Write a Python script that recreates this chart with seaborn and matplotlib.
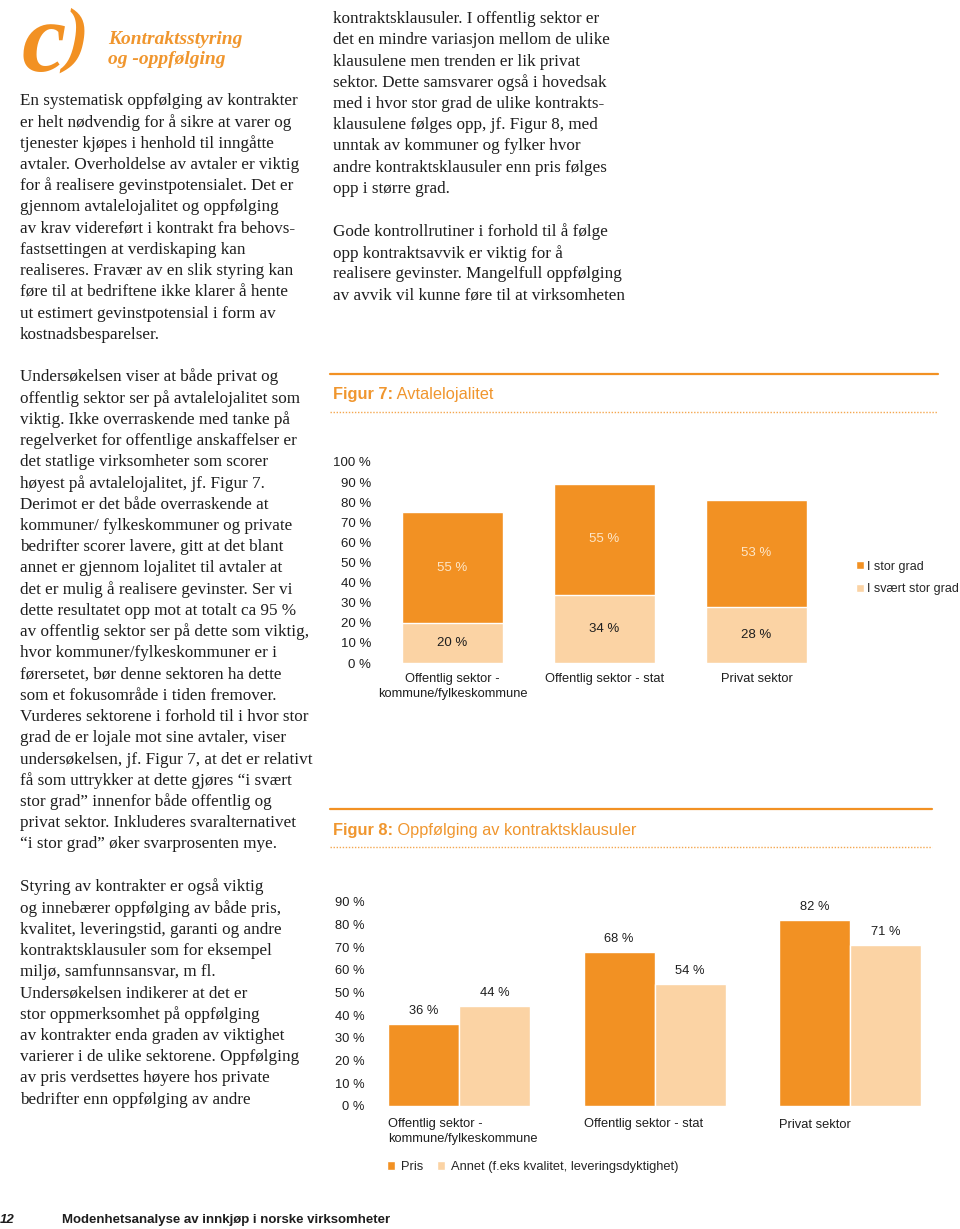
import matplotlib
matplotlib.use("Agg")
import matplotlib.pyplot as plt
from matplotlib.lines import Line2D
import pandas as pd
import seaborn as sns

# ---------------------------------------------------------
# DATA
# ---------------------------------------------------------
SEKTORER = ["Offentlig sektor -\nkommune/fylkeskommune",
            "Offentlig sektor - stat", "Privat sektor"]

# Figur 7: Avtalelojalitet (stablet)
SVAERT_STOR_GRAD = [20, 34, 28]
STOR_GRAD = [55, 55, 53]
SERIER7 = ["I stor grad", "I svært stor grad"]

# Figur 8: Oppfølging av kontraktsklausuler
PRIS = [36, 68, 82]
ANNET = [44, 54, 71]
SERIER8 = ["Pris", "Annet (f.eks kvalitet, leveringsdyktighet)"]

TICKS7 = list(range(0, 101, 10))
TICKS8 = list(range(0, 91, 10))

# ---------------------------------------------------------
# PAGE TEXT
# ---------------------------------------------------------
LEFT_P1 = [
    "En systematisk oppfølging av kontrakter",
    "er helt nødvendig for å sikre at varer og",
    "tjenester kjøpes i henhold til inngåtte",
    "avtaler. Overholdelse av avtaler er viktig",
    "for å realisere gevinstpotensialet. Det er",
    "gjennom avtalelojalitet og oppfølging",
    "av krav videreført i kontrakt fra behovs-",
    "fastsettingen at verdiskaping kan",
    "realiseres. Fravær av en slik styring kan",
    "føre til at bedriftene ikke klarer å hente",
    "ut estimert gevinstpotensial i form av",
    "kostnadsbesparelser.",
]
LEFT_P2 = [
    "Undersøkelsen viser at både privat og",
    "offentlig sektor ser på avtalelojalitet som",
    "viktig. Ikke overraskende med tanke på",
    "regelverket for offentlige anskaffelser er",
    "det statlige virksomheter som scorer",
    "høyest på avtalelojalitet, jf. Figur 7.",
    "Derimot er det både overraskende at",
    "kommuner/ fylkeskommuner og private",
    "bedrifter scorer lavere, gitt at det blant",
    "annet er gjennom lojalitet til avtaler at",
    "det er mulig å realisere gevinster. Ser vi",
    "dette resultatet opp mot at totalt ca 95 %",
    "av offentlig sektor ser på dette som viktig,",
    "hvor kommuner/fylkeskommuner er i",
    "førersetet, bør denne sektoren ha dette",
    "som et fokusområde i tiden fremover.",
    "Vurderes sektorene i forhold til i hvor stor",
    "grad de er lojale mot sine avtaler, viser",
    "undersøkelsen, jf. Figur 7, at det er relativt",
    "få som uttrykker at dette gjøres “i svært",
    "stor grad” innenfor både offentlig og",
    "privat sektor. Inkluderes svaralternativet",
    "“i stor grad” øker svarprosenten mye.",
]
LEFT_P3 = [
    "Styring av kontrakter er også viktig",
    "og innebærer oppfølging av både pris,",
    "kvalitet, leveringstid, garanti og andre",
    "kontraktsklausuler som for eksempel",
    "miljø, samfunnsansvar, m fl.",
    "Undersøkelsen indikerer at det er",
    "stor oppmerksomhet på oppfølging",
    "av kontrakter enda graden av viktighet",
    "varierer i de ulike sektorene. Oppfølging",
    "av pris verdsettes høyere hos private",
    "bedrifter enn oppfølging av andre",
]
RIGHT_P1 = [
    "kontraktsklausuler. I offentlig sektor er",
    "det en mindre variasjon mellom de ulike",
    "klausulene men trenden er lik privat",
    "sektor. Dette samsvarer også i hovedsak",
    "med i hvor stor grad de ulike kontrakts-",
    "klausulene følges opp, jf. Figur 8, med",
    "unntak av kommuner og fylker hvor",
    "andre kontraktsklausuler enn pris følges",
    "opp i større grad.",
]
RIGHT_P2 = [
    "Gode kontrollrutiner i forhold til å følge",
    "opp kontraktsavvik er viktig for å",
    "realisere gevinster. Mangelfull oppfølging",
    "av avvik vil kunne føre til at virksomheten",
]

# ---------------------------------------------------------
# STYLE
# ---------------------------------------------------------
W, H = 960, 1229
ORANGE = "#F29123"
PEACH = "#FBD3A4"
TITLE_ORANGE = "#F0962E"
INK = "#1e1e1e"
SERIF = ["Liberation Serif", "DejaVu Serif"]
SANS = ["Liberation Sans", "DejaVu Sans"]

sns.set_theme(style="white")
plt.rcParams["font.family"] = SANS


def fx(x):
    return x / W


def fy(y):
    return 1 - y / H


def axes_px(fig, left, right, top, bottom):
    return fig.add_axes([fx(left), fy(bottom), (right - left) / W, (bottom - top) / H])


def paragraph(fig, lines, x, y0, step=21.25):
    for i, line in enumerate(lines):
        fig.text(fx(x), fy(y0 + i * step), line, family=SERIF, fontsize=12.3,
                 color=INK, va="center", ha="left")


def fig_header(fig, ax, y_line, y_title, y_dots, num, name, x1):
    fig.add_artist(Line2D([fx(330), fx(x1)], [fy(y_line)] * 2, color=ORANGE, lw=1.6))
    fig.add_artist(Line2D([fx(330), fx(x1)], [fy(y_dots)] * 2, color=ORANGE, lw=1.0,
                          linestyle=(0, (1, 1.2)), alpha=0.8))
    t = fig.text(fx(333), fy(y_title), f"Figur {num}:", family=SANS, fontsize=11.8,
                 weight="bold", color=TITLE_ORANGE, va="center")
    ax.annotate(" " + name, xy=(1, 0), xycoords=t, va="bottom", ha="left",
                family=SANS, fontsize=11.8, color=TITLE_ORANGE, annotation_clip=False)


def xlim_px(left, right, c0, step):
    return ((left - c0) / step, (right - c0) / step)


fig = plt.figure(figsize=(W / 100, H / 100), dpi=100)
fig.patch.set_facecolor("white")

# ---------------------------------------------------------
# HEADER + BODY TEXT
# ---------------------------------------------------------
fig.text(fx(44), fy(47), "c", family=SERIF, fontsize=72, weight="bold",
         style="italic", color=ORANGE, ha="center", va="center")
fig.text(fx(76), fy(40), ")", family=SERIF, fontsize=52, weight="bold",
         style="italic", color=ORANGE, ha="center", va="center")
fig.text(fx(108), fy(39), "Kontraktsstyring", family=SERIF, fontsize=14,
         weight="bold", style="italic", color=TITLE_ORANGE, va="center")
fig.text(fx(108), fy(60), "og -oppfølging", family=SERIF, fontsize=14,
         weight="bold", style="italic", color=TITLE_ORANGE, va="center")

paragraph(fig, LEFT_P1, 20, 101)
paragraph(fig, LEFT_P2, 20, 377)
paragraph(fig, LEFT_P3, 20, 887)
paragraph(fig, RIGHT_P1, 333, 19)
paragraph(fig, RIGHT_P2, 333, 232)

fig.text(fx(0), fy(1220), "12", family=SANS, fontsize=9.5, weight="bold",
         style="italic", color=INK, va="center")
fig.text(fx(62), fy(1220), "Modenhetsanalyse av innkjøp i norske virksomheter",
         family=SANS, fontsize=9.5, weight="bold", color=INK, va="center")

# ---------------------------------------------------------
# FIGUR 7
# ---------------------------------------------------------
ax7 = axes_px(fig, 376, 830, 462, 663)
df7 = pd.DataFrame({"sektor": SEKTORER, "stor": STOR_GRAD, "svaert": SVAERT_STOR_GRAD})
df7["total"] = df7["stor"] + df7["svaert"]
bw7 = 101 / 152
sns.barplot(data=df7, x="sektor", y="total", color=ORANGE, saturation=1, width=bw7,
            errorbar=None, label=SERIER7[0], ax=ax7)
sns.barplot(data=df7, x="sektor", y="svaert", color=PEACH, saturation=1, width=bw7,
            errorbar=None, label=SERIER7[1], ax=ax7)
for i, row in df7.iterrows():
    ax7.text(i, row["svaert"] + row["stor"] / 2, f"{row['stor']} %", ha="center",
             va="center", fontsize=9.5, color="#FDE6C8")
    ax7.text(i, row["svaert"] / 2, f"{row['svaert']} %", ha="center",
             va="center", fontsize=9.5, color=INK)
ax7.set_ylim(0, 100)
ax7.set_xlim(*xlim_px(376, 830, 452.5, 152))
ax7.set_yticks(TICKS7, [f"{t} %" for t in TICKS7])
ax7.set_xlabel("")
ax7.set_ylabel("")
ax7.tick_params(axis="y", labelsize=9.5, pad=3.5, length=0, colors=INK)
ax7.tick_params(axis="x", labelsize=9.3, pad=7, length=0, colors=INK)
for lab in ax7.get_xticklabels():
    lab.set_linespacing(1.35)
sns.despine(ax=ax7, left=True, bottom=True)
ax7.legend(loc="center left", bbox_to_anchor=(fx(856), fy(578)),
           bbox_transform=fig.transFigure, frameon=False, fontsize=9,
           handlelength=0.6, handleheight=0.6, handletextpad=0.3,
           labelspacing=0.85, borderpad=0, borderaxespad=0)
fig_header(fig, ax7, 374, 395, 412, 7, "Avtalelojalitet", 938)

# ---------------------------------------------------------
# FIGUR 8
# ---------------------------------------------------------
ax8 = axes_px(fig, 369, 940, 902, 1106)
df8 = pd.DataFrame({
    "sektor": SEKTORER * 2,
    "serie": [SERIER8[0]] * 3 + [SERIER8[1]] * 3,
    "verdi": PRIS + ANNET,
})
bw8 = 142 / 195.5
sns.barplot(data=df8, x="sektor", y="verdi", hue="serie", palette=[ORANGE, PEACH],
            saturation=1, width=bw8, errorbar=None, ax=ax8)
for cont in ax8.containers:
    ax8.bar_label(cont, labels=[f"{int(b.get_height())} %" for b in cont],
                  padding=5, fontsize=9.3, color=INK)
ax8.set_ylim(0, 90)
ax8.set_xlim(*xlim_px(369, 940, 459, 195.5))
ax8.set_yticks(TICKS8, [f"{t} %" for t in TICKS8])
ax8.set_xticks([i - bw8 / 2 for i in range(3)], SEKTORER, ha="left")
ax8.set_xlabel("")
ax8.set_ylabel("")
ax8.tick_params(axis="y", labelsize=9.3, pad=3.5, length=0, colors=INK)
ax8.tick_params(axis="x", labelsize=9.3, pad=9, length=0, colors=INK)
for lab in ax8.get_xticklabels():
    lab.set_linespacing(1.25)
sns.despine(ax=ax8, left=True, bottom=True)
sns.move_legend(ax8, "center left", bbox_to_anchor=(fx(387), fy(1167)),
                bbox_transform=fig.transFigure, frameon=False, title=None,
                ncol=2, fontsize=9.3, handlelength=0.6, handleheight=0.6,
                handletextpad=0.45, columnspacing=1.1, borderpad=0, borderaxespad=0)
fig_header(fig, ax8, 809, 830, 847, 8, "Oppfølging av kontraktsklausuler", 932)

fig.savefig("out.png", dpi=100, facecolor="white")
